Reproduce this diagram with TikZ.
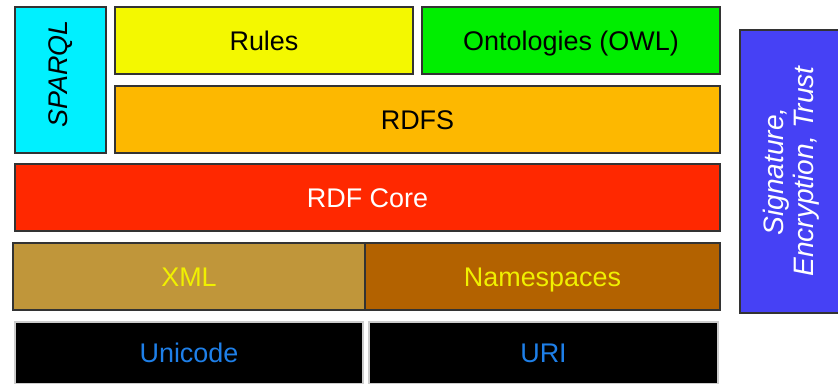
\documentclass[tikz,border=0pt]{standalone}
\usepackage{fontspec}
\setmainfont{Liberation Sans}
\definecolor{bleuciel}{HTML}{00F0FF}
\definecolor{jaune}{HTML}{F4F800}
\definecolor{vert}{HTML}{00EE00}
\definecolor{orange}{HTML}{FDB800}
\definecolor{rouge}{HTML}{FF2800}
\definecolor{ocre}{HTML}{C0963A}
\definecolor{brun}{HTML}{B36200}
\definecolor{violet}{HTML}{4641F5}
\definecolor{bleutexte}{HTML}{1E7FE8}
\definecolor{jaunetexte}{HTML}{F0F000}
\definecolor{bord}{HTML}{333333}
\begin{document}
\begin{tikzpicture}
		\tikzstyle{couche}=[minimum height=2.01cm, inner sep=0, outer sep=0, draw=bord, line width=1pt, font=\fontsize{23}{27}\selectfont]
		\tikzstyle{couche_texte}=[couche, text height=18.5pt, text depth=2pt]
		\tikzstyle{couche_noire}=[couche_texte, minimum height=1.86cm, fill=black, draw=gray!40, text=bleutexte]
		\useasboundingbox (0,0) rectangle (25.14,11.52);
		\node[couche, fill=bleuciel, minimum width=2.73cm, minimum height=4.38cm] (sparql) at (1.815,9.12) {\rotatebox{90}{\hspace*{10pt}\itshape SPARQL}};
		\node[couche_texte, fill=jaune, minimum width=8.94cm] (rules) at (7.92,10.305) {Rules};
		\node[couche_texte, fill=vert, minimum width=8.94cm] (owl) at (17.13,10.305) {Ontologies (OWL)};
		\node[couche_texte, fill=orange, minimum width=18.15cm] (rdfs) at (12.525,7.935) {RDFS};
		\node[couche_texte, fill=rouge, minimum width=21.15cm, text=white] (rdf) at (11.025,5.595) {RDF Core};
		\node[couche_texte, fill=ocre, minimum width=10.56cm, text=jaunetexte] (xml) at (5.67,3.225) {XML};
		\node[couche_texte, fill=brun, minimum width=10.65cm, text=jaunetexte] (ns) at (16.275,3.225) {Namespaces};
		\node[couche_noire, minimum width=10.44cm] (unicode) at (5.67,0.93) {Unicode};
		\node[couche_noire, minimum width=10.47cm] (uri) at (16.305,0.93) {URI};
		% colonne de droite
		\node[couche, fill=violet, minimum width=3.12cm, minimum height=8.49cm, text=white] (sig) at (23.76,6.375)
			{\rotatebox{90}{\fontsize{24}{28}\selectfont\itshape\begin{tabular}{@{}c@{}}Signature,\\[-3pt]Encryption, Trust\end{tabular}}};
	\end{tikzpicture}
\end{document}
